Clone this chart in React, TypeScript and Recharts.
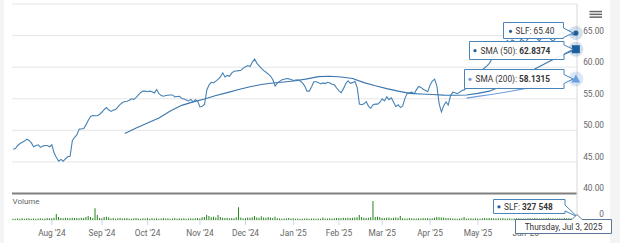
import React from "react";
import { ComposedChart, Line, Bar, XAxis, YAxis, CartesianGrid, ReferenceLine } from "recharts";

// trading days shown: Jul 9 2024 .. Jul 3 2025
const firstDay = "2024-07-09";
const lastDay = "2025-07-03";
const holidays = [
  "2024-09-02", "2024-11-28", "2024-12-25", "2025-01-01", "2025-01-09",
  "2025-01-20", "2025-02-17", "2025-04-18", "2025-05-26", "2025-06-19",
];

// SLF close, one value per trading day
const closes = [
  // Jul '24
  47.0, 47.1, 47.6, 47.9, 48.1, 48.3, 48.6, 48.4, 48.0, 47.4, 47.6, 47.7, 47.3, 47.5, 47.6, 47.6, 47.4,
  // Aug
  47.7, 46.4, 45.7, 45.1, 45.4, 45.1, 45.5, 45.8, 45.9, 48.4, 48.9, 49.3, 50.2, 50.2, 50.3, 50.9, 51.6, 52.2, 52.35, 52.3, 52.3, 52.55,
  // Sep
  52.9, 53.3, 53.6, 53.2, 53.0, 53.2, 53.3, 53.7, 54.1, 54.4, 54.55, 54.6, 54.75, 55.0, 54.9, 55.2, 55.6, 56.0, 56.2, 56.2,
  // Oct
  56.1, 56.2, 56.1, 55.9, 56.45, 55.8, 55.5, 55.4, 55.5, 55.55, 55.6, 55.6, 55.3, 55.35, 55.4, 55.05, 54.95, 54.8, 54.65, 54.9, 54.5, 54.85, 54.6,
  // Nov
  53.7, 53.8, 54.1, 56.35, 57.2, 57.6, 57.5, 57.8, 58.1, 58.45, 59.1, 58.45, 58.7, 58.55, 59.1, 59.35, 59.4, 59.45, 59.5, 59.85,
  // Dec
  60.05, 60.25, 60.1, 60.8, 61.3, 60.6, 60.2, 59.8, 59.45, 59.2, 58.9, 58.6, 58.0, 57.0, 57.5, 57.75, 58.0, 58.1, 58.2, 58.15, 58.05,
  // Jan '25
  57.9, 57.95, 58.0, 57.8, 57.5, 57.0, 56.2, 56.2, 56.9, 57.7, 57.7, 57.55, 57.35, 57.5, 57.4, 57.6, 57.5, 57.3, 57.2, 56.7,
  // Feb
  56.25, 55.95, 56.6, 57.4, 57.85, 57.45, 57.55, 57.75, 56.8, 54.15, 54.05, 54.2, 54.55, 53.8, 53.5, 54.05, 54.15, 54.15, 54.45,
  // Mar
  55.0, 54.65, 55.3, 54.85, 55.15, 54.45, 53.75, 54.05, 53.6, 53.85, 55.1, 55.85, 55.95, 56.05, 55.8, 56.4, 56.95, 56.8, 56.5, 56.3, 56.1,
  // Apr
  57.15, 57.8, 58.1, 57.0, 54.2, 52.9, 53.9, 54.5, 54.0, 55.5, 56.05, 55.95, 55.8, 56.05, 56.3, 56.4, 56.8, 57.4, 57.9, 58.3, 58.6,
  // May
  58.9, 59.3, 59.6, 59.9, 60.2, 60.6, 61.2, 62.0, 62.9, 63.5, 63.4, 63.7, 63.9, 64.2, 63.8, 64.3, 64.1, 63.7, 63.9, 64.4, 64.2,
  // Jun
  64.0, 64.5, 64.7, 65.1, 64.8, 64.5, 64.2, 64.6, 64.9, 65.2, 64.7, 64.4, 64.1, 64.5, 64.9, 65.3, 65.6, 65.2, 65.5, 65.8,
  // Jul
  65.3, 65.1, 65.4,
];

// daily volume, thousands of shares
const volumeK = [
  210, 180, 240, 200, 260, 190, 230, 280, 210, 250, 190, 220, 270, 200, 240, 300, 260,
  280, 350, 950, 480, 330, 290, 360, 310, 280, 340, 300, 320, 290, 350, 300, 470, 640, 480, 330, 1850, 800, 330,
  260, 470, 520, 430, 240, 310, 200, 280, 350, 220, 260, 300, 230, 190, 270, 320, 250, 210, 290, 240,
  330, 200, 260, 220, 280, 190, 250, 300, 230, 270, 210, 240, 310, 190, 260, 230, 280, 200, 250, 290, 220, 260, 310,
  240, 420, 480, 820, 650, 430, 500, 380, 800, 480, 360, 300, 340, 280, 310, 260, 420, 2000, 380, 240,
  330, 400, 360, 450, 620, 380, 340, 600, 410, 350, 480, 390, 300, 520, 280, 250, 200, 230, 290, 310, 220,
  260, 200, 240, 210, 180, 230, 260, 200, 250, 220, 190, 240, 210, 380, 250, 230, 280, 220, 260, 300,
  330, 290, 360, 310, 340, 300, 350, 390, 420, 800, 480, 350, 320, 370, 420, 3000, 480, 520, 460,
  330, 300, 350, 380, 290, 340, 410, 360, 650, 280, 250, 230, 300, 260, 240, 220, 270, 250, 300, 260, 310,
  240, 290, 350, 480, 420, 380, 400, 330, 300, 260, 230, 250, 210, 240, 270, 470, 250, 220, 260, 230, 280,
  240, 210, 260, 300, 280, 330, 290, 260, 240, 280, 220, 310, 250, 230, 270, 210, 240, 290, 260, 220, 250,
  230, 280, 260, 240, 300, 270, 250, 220, 290, 260, 310, 240, 280, 230, 250, 270, 240, 300, 260, 280,
  220, 250, 327.548,
];

const sma50Readings: [string, number][] = [
  ["2024-09-17", 49.5], ["2024-09-24", 50.35], ["2024-10-01", 51.15], ["2024-10-08", 51.95],
  ["2024-10-15", 53.05], ["2024-10-22", 53.95], ["2024-10-29", 54.5], ["2024-11-05", 54.95],
  ["2024-11-12", 55.5], ["2024-11-19", 55.97], ["2024-11-26", 56.45], ["2024-12-04", 56.9],
  ["2024-12-11", 57.25], ["2024-12-18", 57.5], ["2024-12-26", 57.66], ["2025-01-03", 57.85],
  ["2025-01-13", 58.15], ["2025-01-21", 58.5], ["2025-01-28", 58.55], ["2025-02-04", 58.45],
  ["2025-02-11", 58.2], ["2025-02-19", 57.55], ["2025-02-26", 57.05], ["2025-03-05", 56.6],
  ["2025-03-12", 56.2], ["2025-03-19", 55.85], ["2025-03-26", 55.76], ["2025-04-02", 55.68],
  ["2025-04-09", 55.57], ["2025-04-16", 55.55], ["2025-04-24", 55.6], ["2025-05-01", 55.85],
  ["2025-05-08", 56.2], ["2025-05-15", 56.95], ["2025-05-22", 57.8], ["2025-05-30", 58.7],
  ["2025-06-06", 59.7], ["2025-06-13", 60.65], ["2025-06-23", 61.55], ["2025-06-30", 62.35],
  ["2025-07-03", 62.8374],
];

const sma200Readings: [string, number][] = [
  ["2025-04-24", 55.1], ["2025-05-01", 55.38], ["2025-05-08", 55.64], ["2025-05-15", 55.92],
  ["2025-05-22", 56.23], ["2025-05-30", 56.56], ["2025-06-06", 56.9], ["2025-06-13", 57.25],
  ["2025-06-23", 57.6], ["2025-06-30", 57.95], ["2025-07-03", 58.1315],
];

const monthTicks = [
  "2024-08-01", "2024-09-03", "2024-10-01", "2024-11-01", "2024-12-02", "2025-01-02",
  "2025-02-03", "2025-03-03", "2025-04-01", "2025-05-01", "2025-06-02",
];
const monthNames = ["Jan", "Feb", "Mar", "Apr", "May", "Jun", "Jul", "Aug", "Sep", "Oct", "Nov", "Dec"];
const priceTicks = [40, 45, 50, 55, 60, 65, 70];

function tradingDays() {
  const out: string[] = [];
  const d = new Date(firstDay + "T00:00:00Z");
  const end = new Date(lastDay + "T00:00:00Z");
  while (d <= end) {
    const s = d.toISOString().slice(0, 10);
    const wd = d.getUTCDay();
    if (wd !== 0 && wd !== 6 && !holidays.includes(s)) out.push(s);
    d.setUTCDate(d.getUTCDate() + 1);
  }
  return out;
}

const dates = tradingDays();
const sma50Map = new Map(sma50Readings);
const sma200Map = new Map(sma200Readings);
const data = dates.map((date, i) => ({
  date,
  close: closes[i],
  volume: volumeK[i] * 1000,
  sma50: sma50Map.get(date) ?? null,
  sma200: sma200Map.get(date) ?? null,
}));
const finalDate = dates[dates.length - 1];

const FONT = "Roboto, sans-serif";
const LABEL = "#666666";

const XTick = ({ x, y, payload }: any) => {
  const [yy, mm] = payload.value.split("-");
  return (
    <text x={x} y={y} dy={8.5} textAnchor="middle" fontSize={8.3} fontFamily={FONT} fill={LABEL}>
      {`${monthNames[Number(mm) - 1]} '${yy.slice(2)}`}
    </text>
  );
};

const PriceTick = ({ x, y, payload }: any) => {
  if (payload.value === 70) return <g />;
  return (
    <text x={x + 27} y={y - 2} textAnchor="end" fontSize={8.3} fontFamily={FONT} fill={LABEL}>
      {payload.value.toFixed(2)}
    </text>
  );
};

const slfMarker = (p: any) => {
  if (p.payload.date !== finalDate) return <g key={`s${p.index}`} />;
  return (
    <g key={`s${p.index}`}>
      <circle cx={p.cx} cy={p.cy} r={7} fill="#4a84b8" fillOpacity={0.25} />
      <circle cx={p.cx} cy={p.cy} r={2.6} fill="#1f5f9a" />
    </g>
  );
};

const sma50Marker = (p: any) => {
  if (p.payload.date !== finalDate) return <g key={`m${p.index}`} />;
  return (
    <g key={`m${p.index}`}>
      <circle cx={p.cx} cy={p.cy} r={7.5} fill="#4a84b8" fillOpacity={0.25} />
      <rect x={p.cx - 4} y={p.cy - 4} width={8} height={8} fill="#1d5e9e" />
    </g>
  );
};

const sma200Marker = (p: any) => {
  if (p.payload.date !== finalDate) return <g key={`t${p.index}`} />;
  return (
    <g key={`t${p.index}`}>
      <circle cx={p.cx} cy={p.cy} r={7.5} fill="#6d9ee0" fillOpacity={0.25} />
      <path d={`M${p.cx},${p.cy - 4.5} L${p.cx + 4.5},${p.cy + 3.5} L${p.cx - 4.5},${p.cy + 3.5} Z`} fill="#6d9ee0" />
    </g>
  );
};

function Overlay() {
  const box = { fill: "#ffffff", fillOpacity: 0.92, stroke: "#4a84b8", strokeWidth: 1 };
  const txt = { fontSize: 8.3, fontFamily: FONT, fill: "#333333" };
  return (
    <svg width={620} height={243} style={{ position: "absolute", left: 0, top: 0, pointerEvents: "none" }}>
      {/* menu icon */}
      <rect x={589.5} y={10.8} width={12.5} height={1.5} fill="#666" />
      <rect x={589.5} y={13.6} width={12.5} height={1.5} fill="#666" />
      <rect x={589.5} y={16.4} width={12.5} height={1.5} fill="#666" />

      <path d="M503.5,22.5 H563.5 V28 L573,33 L563.5,37.5 V38.5 H503.5 Z" {...box} />
      <circle cx={510.5} cy={31.3} r={1.6} fill="#1f5f9a" />
      <text x={515.5} y={34.3} {...txt}>SLF: 65.40</text>

      <path d="M469.5,41.5 H564 V45 L573,49.2 L564,54 V59.5 H469.5 Z" {...box} />
      <circle cx={475} cy={50.7} r={1.6} fill="#1f5f9a" />
      <text x={480.5} y={53.7} {...txt}>
        SMA (50): <tspan fontWeight="bold">62.8374</tspan>
      </text>

      <path d="M464.5,69.5 H564 V74.5 L573,79 L564,83.5 V88.5 H464.5 Z" {...box} />
      <circle cx={470} cy={79.3} r={1.6} fill="#6d9ee0" />
      <text x={475.5} y={82.3} {...txt}>
        SMA (200): <tspan fontWeight="bold">58.1315</tspan>
      </text>

      <path d="M493.5,199.5 H565 V205 L577,216.5 L565,211 V213.5 H493.5 Z" {...box} />
      <circle cx={499} cy={206.8} r={1.6} fill="#1f5f9a" />
      <text x={504} y={209.8} {...txt}>
        SLF: <tspan fontWeight="bold">327 548</tspan>
      </text>

      <path d="M515.5,219.5 H572 L577,214.5 L582,219.5 H611.5 V233.5 H515.5 Z" fill="#ffffff" stroke="#5a7896" strokeWidth={1} />
      <text x={563.5} y={229.8} textAnchor="middle" {...txt}>Thursday, Jul 3, 2025</text>
    </svg>
  );
}

export default function App() {
  return (
    <div style={{ position: "absolute", left: 0, top: 0, width: 620, height: 243, background: "#f4f4f4" }}>
      <div style={{ position: "absolute", left: 4, top: 0, width: 606, height: 243, background: "#ffffff" }} />
      <div style={{ position: "absolute", left: 0, top: 0 }}>
        <ComposedChart width={620} height={243} data={data} margin={{ top: 4, right: 0, bottom: 0, left: 12 }} barCategoryGap="22%">
          <CartesianGrid horizontal vertical={false} stroke="#e6e6e6" yAxisId="price" />
          <XAxis
            dataKey="date"
            ticks={monthTicks}
            interval={0}
            height={23}
            axisLine={false}
            tickSize={5}
            tickMargin={2}
            tickLine={{ stroke: "#ccd6eb" }}
            tick={<XTick />}
          />
          <YAxis
            yAxisId="price"
            orientation="right"
            width={43}
            type="number"
            domain={[35.8, 70]}
            ticks={priceTicks}
            allowDataOverflow
            tickSize={0}
            tickMargin={0}
            tickLine={false}
            axisLine={{ stroke: "#d8d8d8" }}
            tick={<PriceTick />}
          />
          <YAxis yAxisId="vol" hide domain={[0, 34100000]} allowDataOverflow />
          <Bar yAxisId="vol" dataKey="volume" fill="#24851a" isAnimationActive={false} />
          <ReferenceLine
            yAxisId="price"
            y={40}
            stroke="#808080"
            strokeWidth={2}
            label={(props: any) => (
              <text x={props.viewBox.x + 0.5} y={props.viewBox.y + 11} fontSize={8} fontFamily={FONT} fill={LABEL}>
                Volume
              </text>
            )}
          />
          <ReferenceLine
            yAxisId="vol"
            y={0}
            stroke="none"
            label={(props: any) => (
              <text x={props.viewBox.x + props.viewBox.width + 27} y={props.viewBox.y - 3} textAnchor="end" fontSize={8.3} fontFamily={FONT} fill={LABEL}>
                0
              </text>
            )}
          />
          <Line yAxisId="price" dataKey="sma200" stroke="#6d9ee0" strokeWidth={1.1} connectNulls dot={sma200Marker} activeDot={false} isAnimationActive={false} />
          <Line yAxisId="price" dataKey="sma50" stroke="#3a76ad" strokeWidth={1.1} connectNulls dot={sma50Marker} activeDot={false} isAnimationActive={false} />
          <Line yAxisId="price" dataKey="close" stroke="#4682b4" strokeWidth={1.1} dot={slfMarker} activeDot={false} isAnimationActive={false} />
        </ComposedChart>
      </div>
      <Overlay />
    </div>
  );
}
